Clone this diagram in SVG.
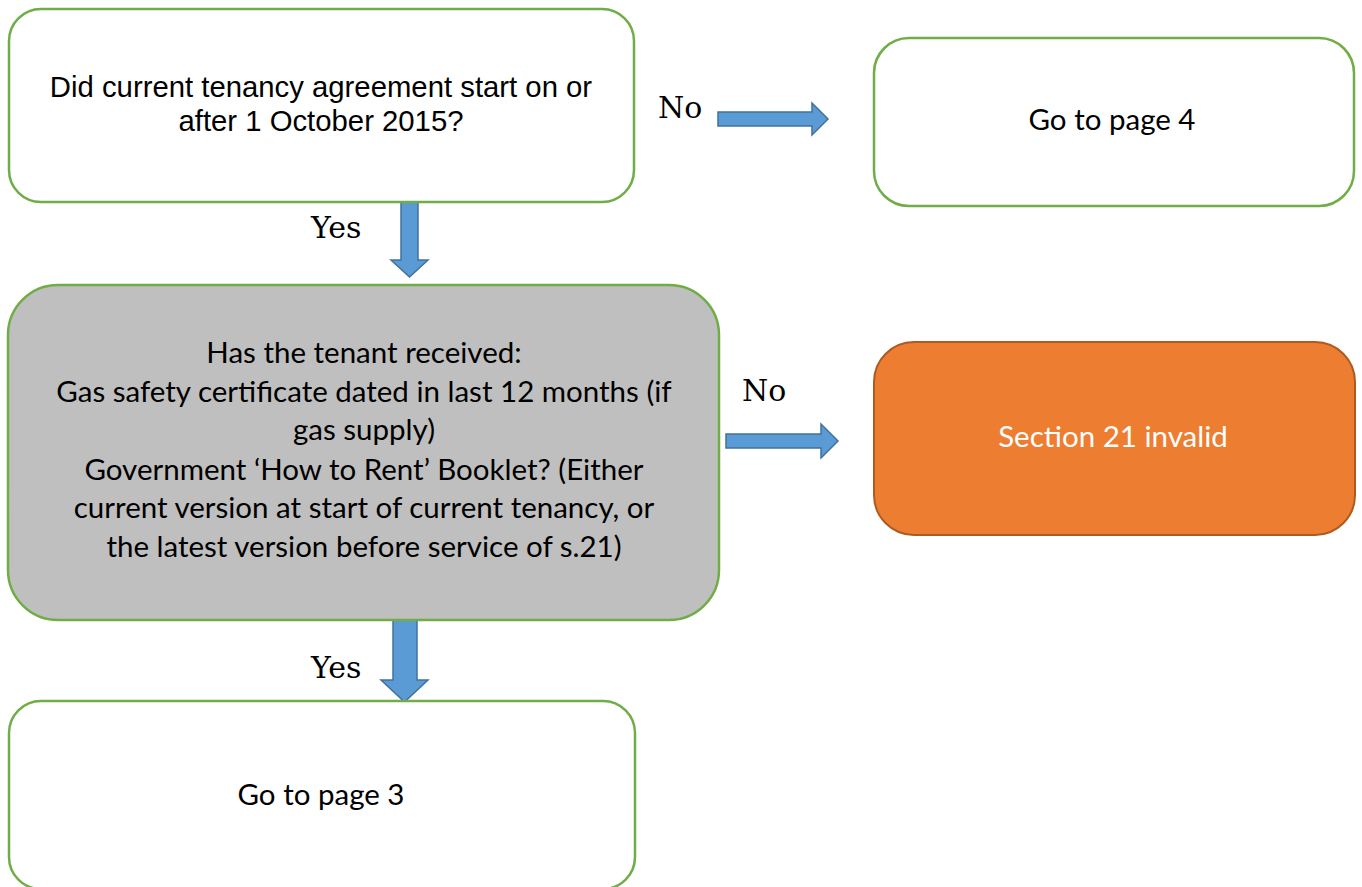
<svg xmlns="http://www.w3.org/2000/svg" width="1362" height="887" viewBox="0 0 1362 887">
  <style>
    .box { fill: #FFFFFF; stroke: #70AD47; stroke-width: 2.5; }
    .grey { fill: #BFBFBF; stroke: #70AD47; stroke-width: 2.5; }
    .orange { fill: #ED7D31; stroke: #AE5A21; stroke-width: 2; }
    .arrow { fill: #5B9BD5; stroke: #41719C; stroke-width: 1.5; stroke-linejoin: miter; }
    .arial { font-family: "Liberation Sans", Arial, sans-serif; font-size: 29.3px; fill: #000; text-anchor: middle; }
    .cal { font-family: Lato, "Open Sans", sans-serif; font-size: 29.5px; fill: #000; text-anchor: middle; }
    .lbl { font-family: "DejaVu Serif", "Liberation Serif", serif; font-size: 30px; fill: #000; }
  </style>
  <rect width="1362" height="887" fill="#FFFFFF"/>

  <g id="connectors">
    <path class="arrow" d="M401,195 H418 V260 H428 L409.5,277 L391,260 H401 Z"/>
    <path class="arrow" d="M718,112 H812 V103 L828,119 L812,135 V126 H718 Z"/>
    <path class="arrow" d="M726,434 H821 V424 L838,441 L821,458 V448 H726 Z"/>
    <path class="arrow" d="M393,619 H417 V680 H428 L404.5,702 L381,680 H393 Z"/>
    <text class="lbl" x="658" y="118">No</text>
    <text class="lbl" x="311" y="238">Yes</text>
    <text class="lbl" x="742" y="401">No</text>
    <text class="lbl" x="311" y="678">Yes</text>
  </g>

  <g id="node-start">
    <rect class="box" x="9" y="9" width="625" height="193" rx="32" ry="32"/>
    <text class="arial" x="321" y="97">Did current tenancy agreement start on or</text>
    <text class="arial" x="321" y="131">after 1 October 2015?</text>
  </g>

  <g id="node-page4">
    <rect class="box" x="874" y="38" width="480" height="168" rx="35" ry="35"/>
    <text class="cal" x="1112" y="130">Go to page 4</text>
  </g>

  <g id="node-check">
    <rect class="grey" x="8" y="285" width="711" height="335" rx="50" ry="50"/>
    <text class="cal" x="364" y="363">Has the tenant received:</text>
    <text class="cal" x="364" y="402">Gas safety certificate dated in last 12 months (if</text>
    <text class="cal" x="364" y="440">gas supply)</text>
    <text class="cal" x="364" y="480">Government ‘How to Rent’ Booklet? (Either</text>
    <text class="cal" x="364" y="518">current version at start of current tenancy, or</text>
    <text class="cal" x="364" y="557">the latest version before service of s.21)</text>
  </g>

  <g id="node-invalid">
    <rect class="orange" x="874" y="342" width="481" height="193" rx="40" ry="40"/>
    <text class="cal" x="1113" y="447" style="fill:#FFFFFF">Section 21 invalid</text>
  </g>

  <g id="node-page3">
    <rect class="box" x="9" y="701" width="626" height="188" rx="32" ry="32"/>
    <text class="cal" x="321" y="805">Go to page 3</text>
  </g>
</svg>
